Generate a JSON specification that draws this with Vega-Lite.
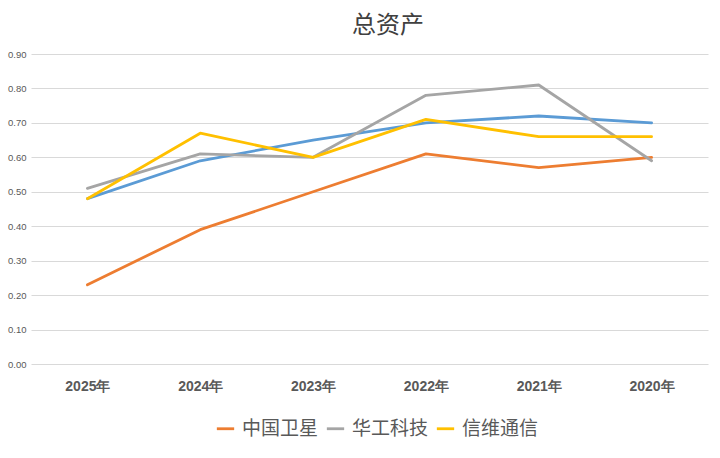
{
  "$schema": "https://vega.github.io/schema/vega-lite/v6.json",
  "width": 677,
  "height": 310,
  "autosize": {"type": "none"},
  "padding": {"left": 31, "top": 54, "right": 12, "bottom": 94},
  "background": "white",
  "title": {
    "text": "总资产",
    "anchor": "start",
    "frame": "group",
    "dx": 321,
    "offset": 11,
    "font": "Noto Sans CJK SC",
    "fontSize": 24,
    "fontWeight": "normal",
    "color": "#404040"
  },
  "data": {
    "values": [
      {"year": "2025年", "series": "系列1", "value": 0.48},
      {"year": "2024年", "series": "系列1", "value": 0.59},
      {"year": "2023年", "series": "系列1", "value": 0.65},
      {"year": "2022年", "series": "系列1", "value": 0.70},
      {"year": "2021年", "series": "系列1", "value": 0.72},
      {"year": "2020年", "series": "系列1", "value": 0.70},
      {"year": "2025年", "series": "中国卫星", "value": 0.23},
      {"year": "2024年", "series": "中国卫星", "value": 0.39},
      {"year": "2023年", "series": "中国卫星", "value": 0.50},
      {"year": "2022年", "series": "中国卫星", "value": 0.61},
      {"year": "2021年", "series": "中国卫星", "value": 0.57},
      {"year": "2020年", "series": "中国卫星", "value": 0.60},
      {"year": "2025年", "series": "华工科技", "value": 0.51},
      {"year": "2024年", "series": "华工科技", "value": 0.61},
      {"year": "2023年", "series": "华工科技", "value": 0.60},
      {"year": "2022年", "series": "华工科技", "value": 0.78},
      {"year": "2021年", "series": "华工科技", "value": 0.81},
      {"year": "2020年", "series": "华工科技", "value": 0.59},
      {"year": "2025年", "series": "信维通信", "value": 0.48},
      {"year": "2024年", "series": "信维通信", "value": 0.67},
      {"year": "2023年", "series": "信维通信", "value": 0.60},
      {"year": "2022年", "series": "信维通信", "value": 0.71},
      {"year": "2021年", "series": "信维通信", "value": 0.66},
      {"year": "2020年", "series": "信维通信", "value": 0.66}
    ]
  },
  "mark": {"type": "line", "strokeWidth": 2.8, "strokeJoin": "round", "strokeCap": "round"},
  "encoding": {
    "x": {
      "field": "year",
      "type": "nominal",
      "sort": ["2025年", "2024年", "2023年", "2022年", "2021年", "2020年"],
      "scale": {"type": "point", "padding": 0.5},
      "axis": {
        "title": null,
        "domain": false,
        "ticks": false,
        "grid": false,
        "labelAngle": 0,
        "labelFont": "Liberation Sans",
        "labelFontSize": 14,
        "labelFontWeight": "bold",
        "labelColor": "#595959",
        "labelPadding": 15
      }
    },
    "y": {
      "field": "value",
      "type": "quantitative",
      "scale": {"domain": [0, 0.9], "nice": false},
      "axis": {
        "title": null,
        "values": [0, 0.1, 0.2, 0.3, 0.4, 0.5, 0.6, 0.7, 0.8, 0.9],
        "format": ".2f",
        "domain": false,
        "ticks": false,
        "gridColor": "#d9d9d9",
        "gridWidth": 1,
        "labelFont": "Liberation Sans",
        "labelFontSize": 9.5,
        "labelColor": "#595959",
        "labelPadding": 5
      }
    },
    "color": {
      "field": "series",
      "type": "nominal",
      "scale": {
        "domain": ["系列1", "中国卫星", "华工科技", "信维通信"],
        "range": ["#5B9BD5", "#ED7D31", "#A5A5A5", "#FFC000"]
      },
      "legend": {
        "title": null,
        "values": ["中国卫星", "华工科技", "信维通信"],
        "orient": "none",
        "direction": "horizontal",
        "legendX": 184,
        "legendY": 364,
        "symbolType": "stroke",
        "symbolStrokeWidth": 2.8,
        "symbolSize": 300,
        "labelFont": "Noto Sans CJK SC",
        "labelFontSize": 19,
        "labelColor": "#595959",
        "columnPadding": 2,
        "labelOffset": 6
      }
    }
  },
  "config": {"view": {"stroke": null}}
}
